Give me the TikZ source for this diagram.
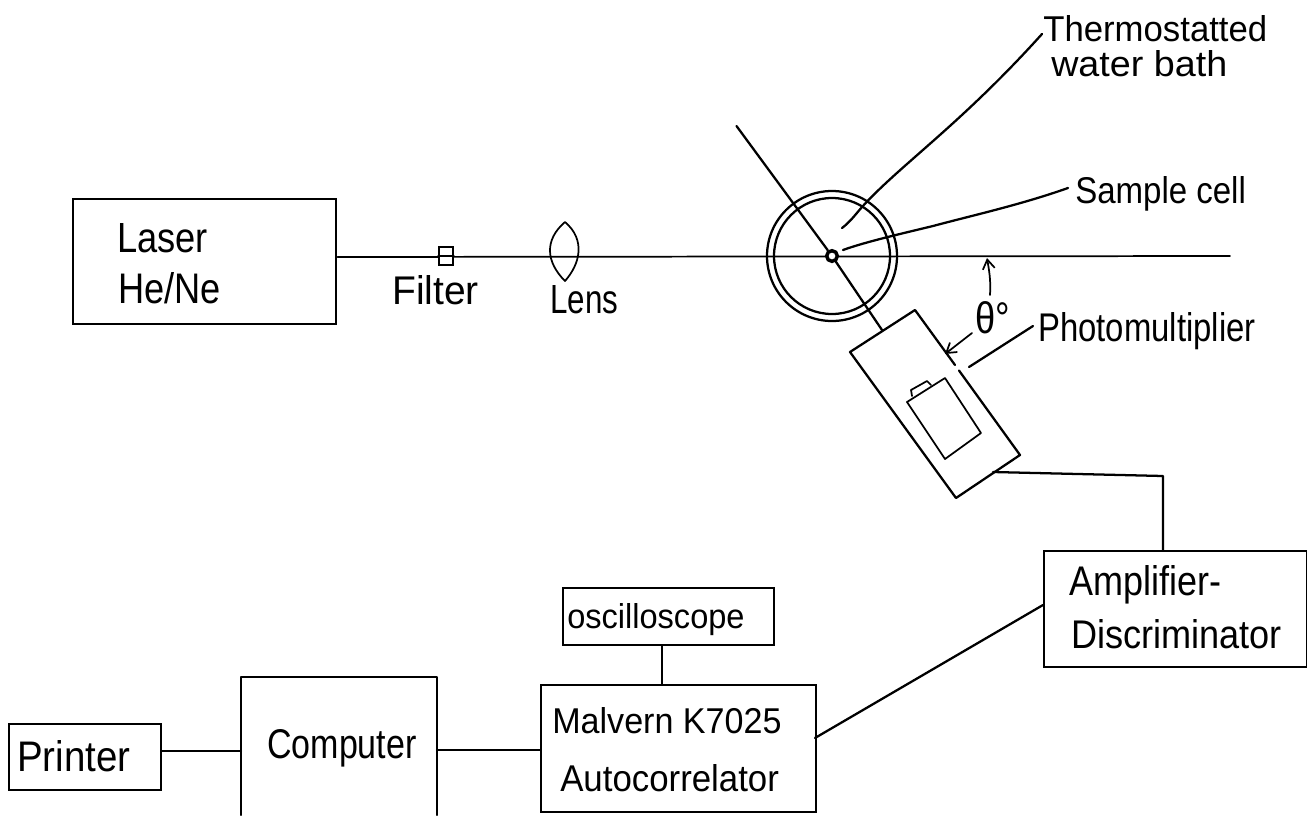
\documentclass[tikz,border=0pt]{standalone}
\usepackage{fontspec}
\setmainfont{Liberation Sans}
\usetikzlibrary{arrows.meta}
\newcommand{\lbl}[3]{\resizebox{#1pt}{#2pt}{#3}}
\tikzset{
  x=0.75pt,y=-0.75pt,
  ink/.style={line width=1.7pt,line join=round,line cap=round,black},
  fine/.style={line width=1.3pt,line join=round,line cap=round,black},
  boxed/.style={draw,line width=1.8pt,inner sep=0pt,anchor=north west,black},
  txt/.style={inner sep=0pt,anchor=base west,black},
  barb/.style={-{Straight Barb[length=7pt,width=9pt,line width=1.3pt]}},
}
\begin{document}
\begin{tikzpicture}
\useasboundingbox (0,0) rectangle (1307,815);
% boxes
\node[boxed,minimum width=197.25pt,minimum height=93.75pt] (laser) at (72,198) {};
\node[boxed,minimum width=197.25pt,minimum height=87pt] (amp) at (1043,550) {};
\node[boxed,minimum width=158.25pt,minimum height=42.75pt] (osc) at (562,587) {};
\node[boxed,minimum width=206.25pt,minimum height=95.25pt] (auto) at (540,684) {};
\node[boxed,minimum width=114pt,minimum height=49.5pt] (printer) at (8,723) {};
\draw[ink] (241,815) -- (241,677) -- (437,677) -- (437,815);
\coordinate (compW) at (241,751);
\coordinate (compE) at (437,750);
% optics
\coordinate (beamEnd) at (1230,256);
\coordinate (cc) at (832,256);
\draw[fine] (laser.east |- 0,257) -- (beamEnd);
\node[draw,fill=white,line width=1.3pt,minimum width=10.5pt,minimum height=14pt,inner sep=0pt] (filter) at (446,256) {};
\draw[fine] (filter.west) -- (filter.east);
\coordinate (lt) at (565,222);
\coordinate (lb) at (565,281);
\draw[fine] (lt) .. controls (544,240) and (546,262) .. (lb) .. controls (580,264) and (586,240) .. (lt);
\draw[ink] (cc) circle[radius=65];
\draw[ink] (cc) circle[radius=58];
\node[circle,draw,fill=white,line width=2.6pt,minimum size=8pt,inner sep=0pt] (cell) at (cc) {};
% detector
\coordinate (c1) at (915,310);
\coordinate (c2) at (850,352);
\coordinate (c3) at (956,498);
\coordinate (c4) at (1020,455);
\coordinate (g1) at (955,365);
\coordinate (g2) at (959,370.5);
\coordinate (axisTop) at (736.5,126);
\coordinate (axisEnd) at (882,330);
\draw[ink] (axisTop) -- (cell);
\draw[ink] (cell) -- (axisEnd);
\draw[ink] (g1) -- (c1) -- (c2) -- (c3) -- (c4) -- (g2);
\draw[fine] (907,402) -- (945,378) -- (981,433) -- (945,459) -- cycle;
\draw[fine] (912,396) -- (911,390) -- (927,381) -- (931,385);
% connectors
\coordinate (pmOut) at (993,472);
\coordinate (pmBend) at (1163,476);
\draw[ink] (pmOut) -- (pmBend) -- (pmBend |- amp.north);
\draw[ink] (printer.east |- 0,751) -- (compW);
\draw[ink] (compE) -- (auto.west |- compE);
\draw[fine] (osc.south -| 662,0) -- (auto.north -| 662,0);
\draw[ink] (815,738) -- (amp.west |- 0,605);
% leaders
\coordinate (thA) at (1042,34);
\coordinate (thB) at (842,228);
\draw[ink] (thA) .. controls (960,125) and (900,165) .. (862,207) .. controls (855,215) and (850,222) .. (thB);
\coordinate (saA) at (1068,188);
\coordinate (saB) at (843,250);
\draw[ink] (saA) .. controls (1020,205) and (970,216) .. (933,226) .. controls (900,234) and (865,242) .. (saB);
\draw[ink] (1033,326) -- (969,367);
% angle
\draw[fine,barb] (990,295) .. controls (991,280) and (989,270) .. (987,258);
\draw[fine,barb] (972,333) -- (945,354);
% labels
\node[inner sep=0pt,anchor=north west,align=left,font=\fontsize{10}{26.5pt}\selectfont] (t1) at (1043,15) {\lbl{168}{19.5}{Thermostatted}\\\hspace*{6pt}\lbl{132}{19.5}{water  bath}};
\node[txt] (t3) at (1075,203) {\lbl{128}{20.25}{Sample cell}};
\node[txt] (t4) at (1038,341) {\lbl{163}{21.75}{Photomultiplier}};
\node[txt] (t5) at (117,252) {\lbl{68}{21.75}{Laser}};
\node[txt] (t6) at (118,303) {\lbl{77}{23.25}{He/Ne}};
\node[txt] (t7) at (392,304) {\lbl{65}{21.75}{Filter}};
\node[txt] (t8) at (550,313) {\lbl{51}{21}{Lens}};
\node[txt] (t9) at (975,333) {\lbl{26}{24}{θ°}};
\node[txt] (t11) at (1069,595) {\lbl{114}{22.5}{Amplifier-}};
\node[txt] (t12) at (1071,648) {\lbl{158}{21.75}{Discriminator}};
\node[txt] (t13) at (567,628) {\lbl{133}{18.75}{oscilloscope}};
\node[txt] (t14) at (552,733) {\lbl{172}{19.5}{Malvern K7025}};
\node[txt] (t15) at (560,791) {\lbl{164}{20.25}{Autocorrelator}};
\node[txt] (t16) at (267,758) {\lbl{112}{21.75}{Computer}};
\node[txt] (t17) at (17,771) {\lbl{85}{23.25}{Printer}};
\end{tikzpicture}
\end{document}
